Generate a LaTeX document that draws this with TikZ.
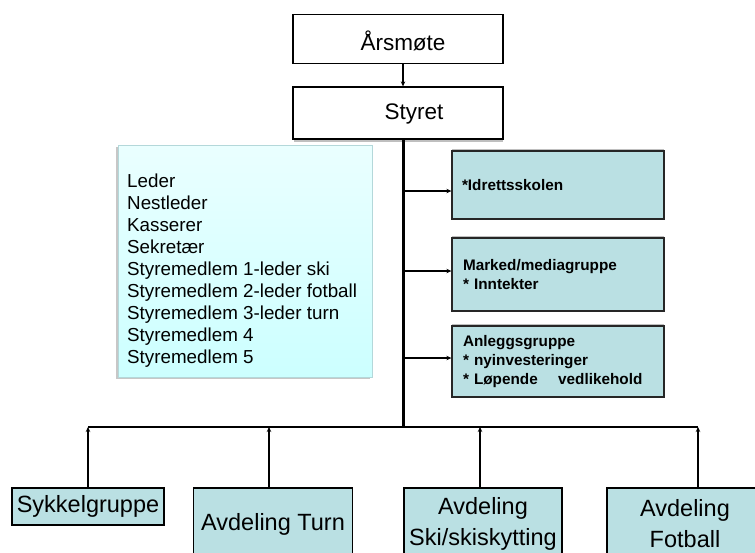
\documentclass[tikz,border=0pt]{standalone}
\usepackage{fontspec}
\setmainfont{Liberation Sans}
\usetikzlibrary{arrows.meta,shadows}
\definecolor{boxteal}{HTML}{BAE0E3}
\definecolor{cyantop}{HTML}{EAFFFF}
\definecolor{cyanbot}{HTML}{CCFFFF}
\definecolor{cyanedge}{HTML}{B4D8DA}
\tikzset{
  whitebox/.style={draw=black, line width=1.3pt, fill=white, minimum width=210pt, minimum height=49pt, inner sep=0pt, font=\fontsize{22.5}{26}\selectfont},
  sidebox/.style={draw=black!85, line width=1.3pt, fill=boxteal, minimum width=212pt, inner sep=0pt, text width=190pt, align=left,
     font=\bfseries\fontsize{15.3}{19}\selectfont, general shadow={fill=black!25, shadow xshift=0pt, shadow yshift=2pt}},
  bottombox/.style={draw=black, line width=1.3pt, fill=boxteal, inner sep=0pt, align=center, font=\fontsize{23.5}{31}\selectfont},
  tip/.style={-{Stealth[length=5pt,width=4.5pt]}},
  thinline/.style={line width=1.2pt},
}
\begin{document}
\begin{tikzpicture}[x=1pt,y=-1pt]
\clip (0,0) rectangle (755,552);
\fill[white] (0,0) rectangle (755,552);

% top boxes
\node[whitebox] (aars) at (398,39) {};
\node[font=\fontsize{22.5}{26}\selectfont] (aarstxt) at (403,41) {Årsmøte};
\node[whitebox, minimum height=52pt] (styret) at (398,113) {};
\node[font=\fontsize{22.5}{26}\selectfont] (styrettxt) at (414,114) {Styret};
\draw[black!25, line width=1.2pt] (294,141) -- (503,141);

% left member list box
\fill[black!22] (116,147) rectangle (370,379);
\shade[top color=cyantop, bottom color=cyanbot, draw=cyanedge, line width=1pt] (118,145) rectangle (372,377);
\node[anchor=north west, align=left, inner sep=0pt, font=\fontsize{18.8}{22}\selectfont] (members) at (127,174) {%
Leder\\Nestleder\\Kasserer\\Sekretær\\Styremedlem 1-leder ski\\Styremedlem 2-leder fotball\\Styremedlem 3-leder turn\\Styremedlem 4\\Styremedlem 5};

% spine
\coordinate (spinetop) at (403,139);
\coordinate (spinebot) at (403,427);
\draw[line width=3pt] (spinetop) -- (spinebot);
\draw[tip, thinline] (aars.south -| 403,0) -- (styret.north -| 403,0);

% right boxes
\node[sidebox, minimum height=68pt] (idr) at (558,185) {\hspace*{-1pt}*Idrettsskolen\\[2pt]};
\node[sidebox, minimum height=73pt] (mark) at (558,274.5) {Marked/mediagruppe\\{}* Inntekter\\[10pt]};
\node[sidebox, minimum height=71pt] (anl) at (558,361.5) {Anleggsgruppe\\{}* nyinvesteringer\\{}* Løpende\ \ \ \ vedlikehold};
\coordinate (a1) at (403,191);
\coordinate (a2) at (403,271);
\coordinate (a3) at (403,358);
\draw[tip, thinline] (a1) -- (a1 -| idr.west);
\draw[tip, thinline] (a2) -- (a2 -| mark.west);
\draw[tip, thinline] (a3) -- (a3 -| anl.west);

% bottom bar
\coordinate (barL) at (88,427);
\coordinate (barR) at (698,427);
\draw[line width=2pt] (barL) -- (barR);

% bottom boxes
\node[bottombox, minimum width=152pt, minimum height=37pt] (sykkel) at (88,506.5) {Sykkelgruppe};
\node[bottombox, minimum width=159pt, minimum height=72pt] (turn) at (273,524) {Avdeling Turn};
\node[bottombox, minimum width=158pt, minimum height=72pt] (ski) at (483,524) {Avdeling\\Ski/skiskytting};
\node[bottombox, minimum width=156pt, minimum height=72pt] (fot) at (685,524) {Avdeling\\Fotball};

\coordinate (d1) at (88,427);
\coordinate (d2) at (269,427);
\coordinate (d3) at (480,427);
\coordinate (d4) at (698,427);
\draw[tip, thinline] (sykkel.north -| d1) -- (d1);
\draw[tip, thinline] (turn.north -| d2) -- (d2);
\draw[tip, thinline] (ski.north -| d3) -- (d3);
\draw[tip, thinline] (fot.north -| d4) -- (d4);
\end{tikzpicture}
\end{document}
